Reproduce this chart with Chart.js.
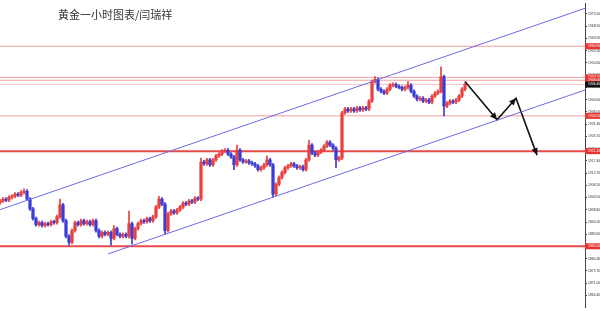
<!DOCTYPE html>
<html>
<head>
<meta charset="utf-8">
<script src="https://cdn.jsdelivr.net/npm/chart.js@4.4.0/dist/chart.umd.min.js"></script>
<style>
  html, body { margin: 0; padding: 0; background: #fff; }
  #wrap { position: relative; width: 600px; height: 311px; }
  #title {
    position: absolute; left: 58px; top: 7px;
    font-family: "Noto Sans CJK SC", sans-serif; font-size: 11px; color: #333;
    line-height: 14px; white-space: nowrap;
  }
</style>
</head>
<body>
<div id="wrap">
  <canvas id="c" width="600" height="311"></canvas>
  <div id="title">黄金一小时图表/闫瑞祥</div>
</div>
<script>
// gold 1h candles (index = candle number)
const opens = [
  1901.5,1902.2,1902.9,1902.5,1903.6,1904.0,1904.8,1904.4,1905.5,1905.9,
  1902.9,1899.2,1895.5,1893.2,1894.0,1892.9,1893.6,1893.2,1894.3,1894.0,
  1896.2,1900.7,1894.7,1888.8,1886.5,1891.0,1894.0,1893.2,1894.7,1893.6,
  1894.3,1893.2,1894.7,1891.0,1888.8,1890.3,1889.5,1890.3,1888.0,1891.7,
  1889.5,1888.8,1889.5,1888.8,1893.6,1888.0,1891.7,1893.6,1894.7,1894.3,
  1895.5,1894.7,1896.2,1899.9,1902.9,1901.0,1891.0,1897.3,1898.4,1897.7,
  1898.8,1899.9,1901.4,1901.0,1902.2,1901.8,1903.3,1902.9,1917.0,1916.3,
  1917.8,1915.9,1917.8,1919.3,1920.0,1921.1,1921.5,1920.0,1918.9,1915.9,
  1921.5,1917.8,1917.0,1917.4,1916.7,1916.3,1915.5,1914.1,1914.8,1915.9,
  1917.8,1915.9,1904.8,1908.5,1911.1,1913.0,1914.8,1915.5,1916.3,1915.5,
  1914.8,1915.2,1914.1,1917.8,1923.4,1920.4,1919.6,1920.7,1921.5,1923.0,
  1924.5,1923.4,1922.2,1917.8,1918.5,1935.6,1937.1,1936.4,1937.1,1936.4,
  1937.5,1936.8,1937.5,1937.1,1940.1,1947.5,1948.3,1944.6,1943.8,1943.1,
  1944.6,1946.1,1946.4,1945.7,1945.3,1944.6,1945.3,1946.1,1943.8,1942.0,
  1940.8,1941.2,1940.1,1940.5,1939.7,1942.0,1943.1,1943.8,1949.4,1938.2,
  1939.3,1940.1,1939.7,1940.5,1942.0,1944.6
];
const highs = [
  1902.8,1903.5,1903.5,1904.2,1904.6,1905.4,1905.4,1906.1,1906.8,1906.5,
  1903.5,1899.8,1896.1,1894.6,1894.6,1894.2,1894.2,1894.9,1894.9,1896.8,
  1902.9,1901.3,1895.3,1889.4,1891.6,1894.6,1894.6,1895.3,1895.3,1894.9,
  1894.9,1895.3,1895.3,1891.6,1890.9,1890.9,1890.9,1890.9,1892.9,1892.3,
  1890.1,1890.1,1890.1,1898.4,1894.2,1892.3,1894.2,1895.3,1895.3,1896.1,
  1896.1,1896.8,1900.5,1904.0,1903.5,1901.6,1897.9,1899.0,1899.0,1899.4,
  1900.5,1902.0,1902.0,1902.8,1902.8,1903.9,1903.9,1918.5,1917.6,1918.4,
  1918.4,1918.4,1919.9,1920.6,1921.7,1922.1,1922.1,1920.6,1919.5,1923.4,
  1922.1,1918.4,1918.0,1918.0,1917.3,1916.9,1916.1,1915.4,1916.5,1919.3,
  1918.4,1916.5,1909.1,1911.7,1913.6,1915.4,1916.1,1916.9,1916.9,1916.1,
  1915.8,1915.8,1918.4,1925.2,1924.0,1921.0,1921.3,1922.1,1923.6,1925.1,
  1925.1,1924.0,1922.8,1919.1,1936.2,1937.7,1937.7,1937.7,1937.7,1938.1,
  1938.1,1938.1,1938.1,1940.7,1948.1,1949.4,1948.9,1945.2,1944.4,1945.2,
  1946.7,1947.0,1947.0,1946.3,1945.9,1945.9,1947.5,1946.7,1944.4,1942.6,
  1941.8,1941.8,1941.1,1941.1,1942.6,1943.7,1944.4,1953.1,1950.0,1939.9,
  1940.7,1940.7,1941.1,1942.6,1945.2,1947.0
];
const lows = [
  1900.9,1901.6,1901.9,1901.9,1903.0,1903.4,1903.8,1903.8,1904.9,1902.3,
  1898.6,1894.9,1892.6,1892.6,1892.3,1892.3,1892.6,1892.6,1893.4,1893.4,
  1895.6,1894.1,1888.2,1885.4,1885.9,1890.4,1892.6,1892.6,1893.0,1893.0,
  1892.6,1892.6,1890.4,1888.2,1888.2,1888.9,1888.9,1885.4,1887.4,1888.9,
  1888.2,1888.2,1888.2,1888.2,1885.8,1887.4,1891.1,1893.0,1893.7,1893.7,
  1894.1,1894.1,1895.6,1899.3,1900.4,1889.5,1890.4,1896.7,1897.1,1897.1,
  1898.2,1899.3,1900.4,1900.4,1901.2,1901.2,1902.3,1902.3,1915.7,1915.7,
  1915.3,1915.3,1917.2,1918.7,1919.4,1920.5,1919.4,1918.3,1914.1,1915.3,
  1917.2,1916.4,1916.4,1916.1,1915.7,1914.9,1913.5,1913.5,1914.2,1915.3,
  1915.3,1903.6,1904.2,1907.9,1910.5,1912.4,1914.2,1914.9,1914.9,1914.2,
  1914.2,1913.5,1913.5,1917.2,1919.8,1919.0,1919.0,1920.1,1920.9,1922.4,
  1922.8,1921.6,1914.8,1917.2,1917.9,1935.0,1935.8,1935.8,1935.8,1935.8,
  1936.2,1936.2,1936.5,1936.5,1939.5,1946.9,1944.0,1943.2,1942.5,1942.5,
  1944.0,1945.5,1945.1,1944.7,1944.0,1944.0,1944.7,1943.2,1941.4,1940.2,
  1940.2,1939.5,1939.5,1939.1,1939.1,1941.4,1942.5,1943.2,1934.5,1937.6,
  1938.7,1939.1,1939.1,1939.9,1941.4,1944.0
];
const closes = [
  1902.2,1902.9,1902.5,1903.6,1904.0,1904.8,1904.4,1905.5,1905.9,1902.9,
  1899.2,1895.5,1893.2,1894.0,1892.9,1893.6,1893.2,1894.3,1894.0,1896.2,
  1900.7,1894.7,1888.8,1886.5,1891.0,1894.0,1893.2,1894.7,1893.6,1894.3,
  1893.2,1894.7,1891.0,1888.8,1890.3,1889.5,1890.3,1888.0,1891.7,1889.5,
  1888.8,1889.5,1888.8,1893.6,1888.0,1891.7,1893.6,1894.7,1894.3,1895.5,
  1894.7,1896.2,1899.9,1902.9,1901.0,1891.0,1897.3,1898.4,1897.7,1898.8,
  1899.9,1901.4,1901.0,1902.2,1901.8,1903.3,1902.9,1917.0,1916.3,1917.8,
  1915.9,1917.8,1919.3,1920.0,1921.1,1921.5,1920.0,1918.9,1915.9,1921.5,
  1917.8,1917.0,1917.4,1916.7,1916.3,1915.5,1914.1,1914.8,1915.9,1917.8,
  1915.9,1904.8,1908.5,1911.1,1913.0,1914.8,1915.5,1916.3,1915.5,1914.8,
  1915.2,1914.1,1917.8,1923.4,1920.4,1919.6,1920.7,1921.5,1923.0,1924.5,
  1923.4,1922.2,1917.8,1918.5,1935.6,1937.1,1936.4,1937.1,1936.4,1937.5,
  1936.8,1937.5,1937.1,1940.1,1947.5,1948.3,1944.6,1943.8,1943.1,1944.6,
  1946.1,1946.4,1945.7,1945.3,1944.6,1945.3,1946.1,1943.8,1942.0,1940.8,
  1941.2,1940.1,1940.5,1939.7,1942.0,1943.1,1943.8,1949.4,1938.2,1939.3,
  1940.1,1939.7,1940.5,1942.0,1944.6,1946.4
];

// right axis tick labels
const yTicks = [1866.4,1871.0,1875.7,1880.3,1884.9,1889.6,1894.2,1898.8,1903.5,1908.1,
  1912.7,1917.4,1922.0,1926.7,1931.3,1936.0,1940.6,1945.3,1949.9,1954.6,1959.2,1963.9,1968.5,1973.2];

// horizontal levels (support / resistance) and the last price
const levelValues = [1960.9, 1949.1, 1948.0, 1946.4, 1934.5, 1921.1, 1885.0];
const levelKinds  = ['thin', 'thin', 'thin', 'last', 'thin', 'thick', 'thick'];

// channel lines, x in candle index units
const upperX = [0, 195];
const upperY = [1898.9, 1975.3];
const lowerX = [36, 195];
const lowerY = [1882.1, 1944.3];

// forecast path
const arrowX = [155, 165.7, 172, 179];
const arrowY = [1947.5, 1933.0, 1941.2, 1919.6];

const X_MAX = 195;
const UP = '#e8403c', DOWN = '#3b3bd6';

const candleColors = closes.map((c, i) => c >= opens[i] ? UP : DOWN);
const wickData = highs.map((h, i) => ({ x: i, y: [lows[i], h] }));
const bodyData = closes.map((c, i) => ({ x: i, y: [opens[i], c] }));

const levelStyle = {
  thin:  { color: 'rgba(232,80,80,0.55)', width: 1 },
  last:  { color: 'rgba(232,80,80,0.35)', width: 1 },
  thick: { color: '#e84a4a', width: 2 },
};

function lineSet(xs, ys, color, width){
  return {
    type: 'line',
    data: xs.map((x, i) => ({ x, y: ys[i] })),
    borderColor: color, borderWidth: width,
    pointRadius: 0, fill: false, tension: 0,
  };
}

const levelSets = levelValues.map((v, i) => {
  const st = levelStyle[levelKinds[i]];
  return lineSet([0, X_MAX], [v, v], st.color, st.width);
});

const arrowSet = lineSet(arrowX, arrowY, '#111', 1.6);

// arrow heads at the end of each leg
const arrowHeads = {
  id: 'arrowHeads',
  afterDatasetsDraw(chart){
    const idx = chart.data.datasets.indexOf(arrowSet);
    const pts = chart.getDatasetMeta(idx).data;
    const ctx = chart.ctx;
    ctx.save();
    ctx.fillStyle = '#111';
    for (let k = 1; k < pts.length; k++){
      const a = pts[k-1], b = pts[k];
      const ang = Math.atan2(b.y - a.y, b.x - a.x);
      const L = 7, W = 3.2;
      ctx.beginPath();
      ctx.moveTo(b.x, b.y);
      ctx.lineTo(b.x - L*Math.cos(ang) + W*Math.sin(ang), b.y - L*Math.sin(ang) - W*Math.cos(ang));
      ctx.lineTo(b.x - L*Math.cos(ang) - W*Math.sin(ang), b.y - L*Math.sin(ang) + W*Math.cos(ang));
      ctx.closePath();
      ctx.fill();
    }
    ctx.restore();
  }
};

// price boxes on the right axis
const levelTags = {
  id: 'levelTags',
  afterDraw(chart){
    const y = chart.scales.y;
    const ctx = chart.ctx;
    const left = chart.chartArea.right;
    ctx.save();
    ctx.font = '3.4px "Liberation Sans"';
    ctx.textBaseline = 'middle';
    levelValues.forEach((v, i) => {
      const py = y.getPixelForValue(v);
      ctx.fillStyle = levelKinds[i] === 'last' ? '#111' : '#e8322f';
      ctx.fillRect(left, py - 3, 15, 6);
      ctx.fillStyle = '#fff';
      ctx.fillText(v.toFixed(2), left + 3, py);
    });
    ctx.restore();
  }
};

new Chart(document.getElementById('c'), {
  type: 'bar',
  data: {
    datasets: [
      lineSet(upperX, upperY, '#6c6ce6', 1),
      lineSet(lowerX, lowerY, '#6c6ce6', 1),
      arrowSet,
      {
        type: 'bar', data: bodyData, backgroundColor: candleColors,
        barThickness: 2.6, minBarLength: 1, grouped: false,
      },
      {
        type: 'bar', data: wickData, backgroundColor: candleColors,
        barThickness: 1, grouped: false,
      },
      ...levelSets,
    ]
  },
  options: {
    responsive: false,
    animation: false,
    layout: { padding: 0 },
    plugins: { legend: { display: false }, tooltip: { enabled: false } },
    scales: {
      x: { type: 'linear', min: 0, max: X_MAX, offset: false, display: false },
      y: {
        position: 'right',
        min: 1861.6, max: 1977.3,
        afterBuildTicks: (scale) => { scale.ticks = yTicks.map(v => ({ value: v })); },
        afterFit: (scale) => { scale.width = 15; },
        grid: { display: true, drawOnChartArea: false, tickLength: 2, color: '#444' },
        border: { display: true, color: '#444', width: 1 },
        ticks: {
          padding: 1,
          color: '#333',
          font: { family: 'Liberation Sans', size: 3.4 },
          callback: v => Number(v).toFixed(2),
        }
      }
    }
  },
  plugins: [arrowHeads, levelTags]
});
</script>
</body>
</html>
